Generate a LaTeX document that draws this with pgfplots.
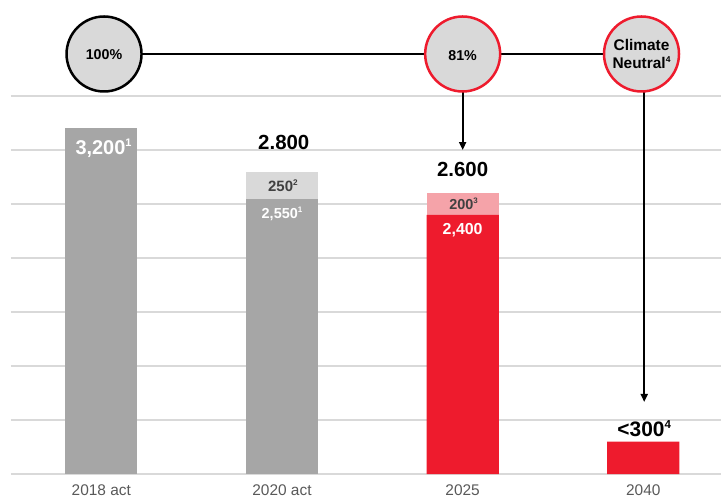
\documentclass[border=0pt]{standalone}
\usepackage{pgfplots}
\pgfplotsset{compat=1.18}
\usepackage{graphicx}
\usepackage{fontspec}
\setmainfont{Liberation Sans}
\usetikzlibrary{arrows.meta}
\definecolor{dgray}{HTML}{A6A6A6}
\definecolor{lgray}{HTML}{D9D9D9}
\definecolor{cfill}{HTML}{D9D9D9}
\definecolor{gridgray}{HTML}{D9D9D9}
\definecolor{labgray}{HTML}{595959}
\definecolor{txtgray}{HTML}{404040}
\definecolor{myred}{HTML}{EE1B2D}
\definecolor{mypink}{HTML}{F5A3A9}
\newcommand{\sups}[1]{\raisebox{0.4em}{\scalebox{0.55}{#1}}}
\begin{document}
\begin{tikzpicture}[font=\fontsize{14}{16}\selectfont]
\begin{axis}[
  scale only axis, width=710bp, height=474bp,
  xmin=-0.5, xmax=3.43, ymin=0, ymax=4389,
  axis line style={draw=none}, major tick length=0pt,
  ytick={0,500,...,3500}, yticklabels={}, ymajorgrids,
  grid style={color=gridgray, line width=1.3bp},
  xtick={0,1,2,3}, xticklabels={2018 act,2020 act,2025,2040},
  xticklabel style={font=\fontsize{15.5}{18}\selectfont, text=labgray, yshift=-7bp},
  ybar, bar width=0.4, bar shift=0pt,
  clip=false,
]
% bars (totals drawn first, base segments on top)
\addplot[fill=dgray, draw=none] coordinates {(0,3200)};
\addplot[fill=lgray, draw=none] coordinates {(1,2800)};
\addplot[fill=dgray, draw=none] coordinates {(1,2550)};
\addplot[fill=mypink, draw=none] coordinates {(2,2600)};
\addplot[fill=myred, draw=none] coordinates {(2,2400) (3,300)};
% connecting line and arrows
\addplot[sharp plot, mark=none, draw=black, line width=1.4bp] coordinates {(0,3889) (3,3889)};
\addplot[sharp plot, mark=none, draw=black, line width=1.8bp, -{Triangle[width=7bp,length=8bp]}] coordinates {(2,3889) (2,3000)};
\addplot[sharp plot, mark=none, draw=black, line width=1.8bp, -{Triangle[width=7bp,length=8bp]}] coordinates {(3.005,3889) (3.005,667)};
% circles
\addplot[only marks, mark=*, mark size=37.5bp, mark options={fill=cfill, draw=black, line width=2.5bp}] coordinates {(0.015,3889)};
\addplot[only marks, mark=*, mark size=37.5bp, mark options={fill=cfill, draw=myred, line width=2.5bp}] coordinates {(2,3889) (2.99,3889)};
\coordinate (c1) at (axis cs:0.015,3880);
\coordinate (c2) at (axis cs:2,3870);
\coordinate (c3) at (axis cs:2.99,3889);
% value labels
\node[font=\bfseries\fontsize{20}{24}\selectfont, text=white] at (axis cs:0.012,3019) {3,200\sups{1}};
\node[font=\bfseries\fontsize{20.5}{24}\selectfont] at (axis cs:1.01,3068) {2.800};
\node[font=\bfseries\fontsize{15}{18}\selectfont, text=txtgray] at (axis cs:1.005,2669) {250\sups{2}};
\node[font=\bfseries\fontsize{14.5}{18}\selectfont, text=white] at (axis cs:1,2407) {2,550\sups{1}};
\node[font=\bfseries\fontsize{20.5}{24}\selectfont] at (axis cs:2,2824) {2.600};
\node[font=\bfseries\fontsize{14.5}{18}\selectfont, text=txtgray] at (axis cs:2.005,2500) {200\sups{3}};
\node[font=\bfseries\fontsize{16}{18}\selectfont, text=white] at (axis cs:2,2259) {2,400};
\node[font=\bfseries\fontsize{21}{24}\selectfont] at (axis cs:3.005,417) {<300\sups{4}};
\coordinate (ll) at (rel axis cs:-0.01549,-0.05274);
\coordinate (ur) at (rel axis cs:1,1);
\end{axis}
% circle texts
\node[font=\bfseries\fontsize{14.3}{16}\selectfont] at (c1) {100\%};
\node[font=\bfseries\fontsize{14.3}{16}\selectfont] at (c2) {81\%};
\node[font=\bfseries\fontsize{15.5}{19}\selectfont, align=center] at (c3) {Climate\\Neutral\sups{4}};
\pgfresetboundingbox
\path[use as bounding box] (ll) rectangle (ur);
\end{tikzpicture}
\end{document}
